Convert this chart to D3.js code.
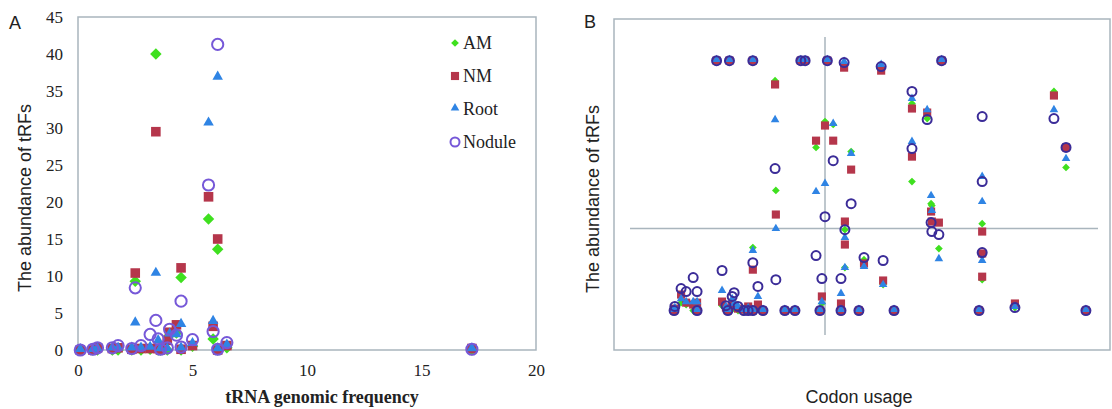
<!DOCTYPE html>
<meta charset="utf-8">
<style>
 body { margin: 0; background: #fff; }
 .tick text { font: 17px "Liberation Serif", serif; fill: #222; }
 .title { font: 18px "Liberation Sans", Arial, sans-serif; fill: #222; }
</style>
<body>
<svg width="1112" height="409"></svg>
<script src="https://d3js.org/d3.v7.min.js"></script>
<script>

// ---- panel A: tRNA genomic frequency vs abundance ----
var freqA   = [0.1, 0.65, 0.85, 1.5, 1.75, 2.35, 2.5, 2.75, 3.15, 3.4, 3.5, 3.6, 3.9, 4.0, 4.3, 4.5, 4.5, 5.0, 5.7, 5.9, 6.1, 6.1, 6.5, 17.2];
var amA     = [0, 0, 0, 0, 0, 0, 9.3, 0, 0.1, 40, 0, 0, 0, 2.0, 2.3, 9.8, 0, 0.5, 17.7, 1.5, 13.6, 0, 0.3, 0];
var nmA     = [0, 0, 0.3, 0.2, 0.3, 0.1, 10.4, 0.2, 0.2, 29.5, 0.2, 0, 1.3, 2.4, 3.4, 11.1, 0.1, 0.6, 20.7, 3.2, 15.0, 0, 0.6, 0.2];
var rootA   = [0, 0, 0.1, 0.2, 0.2, 0.2, 3.6, 0.2, 0.3, 10.3, 1.2, 0.1, 0.1, 2.1, 2.0, 3.4, 0.2, 0.8, 30.6, 3.8, 36.8, 0.1, 0.6, 0.1];
var noduleA = [0, 0.1, 0.3, 0.3, 0.6, 0.2, 8.4, 0.6, 2.1, 4.0, 1.5, 0.1, 0.3, 2.8, 2.0, 6.6, 0.4, 1.4, 22.3, 2.5, 41.3, 0.1, 1.0, 0.1];
var xTicksA = [0, 5, 10, 15, 20];
var yTicksA = [0, 5, 10, 15, 20, 25, 30, 35, 40, 45];

// ---- panel B: codon usage vs abundance (axes cross at 0,0, no labels) ----
var codonB  = [-3.87, -3.85, -3.69, -3.56, -3.38, -3.28, -3.28, -2.64, -2.54, -2.49, -2.38, -2.33, -2.23, -2.08, -1.97, -1.85, -1.85, -1.72, -1.59,
               -2.78, -2.45, -1.85, -0.62, -0.51, 0.06, 0.49, 1.44, 2.99,
               -1.28, -1.26, -1.03, -0.77, -0.23, -0.08, -0.13, 0, 0.21, 0.41, 0.41, 0.51, 0.51, 0.67, 0.87, 1.0, 1.49, 1.77,
               2.23, 2.23, 2.62, 2.72, 2.74, 2.92, 3.95, 4.03, 4.03, 4.03, 4.87, 5.87, 6.18, 6.69];
var amB     = [-3.85, -3.71, -3.48, -3.57, -3.85, -3.43, -3.85, -3.62, -3.85, -3.85, -3.57, -3.76, -3.85, -3.85, -3.85, -0.89, -3.85, -3.62, -3.85,
               7.89, 7.89, 7.89, 7.89, 7.89, 7.89, 7.66, 7.56, 7.89,
               6.95, 1.79, -3.85, -3.85, 3.81, -3.52, -3.85, 5.03, 4.89, -3.85, -3.57, -0.05, -1.83, 3.62, -3.85, -1.46, -2.63, -3.85,
               5.87, 2.21, 5.17, 1.17, 1.08, -0.94, -3.85, 0.23, -2.40, -1.27, -3.71, 6.44, 2.87, -3.85];
var nmB     = [-3.85, -3.76, -3.10, -3.48, -3.57, -3.48, -3.85, -3.43, -3.71, -3.85, -3.48, -3.62, -3.76, -3.81, -3.66, -1.93, -3.85, -3.57, -3.85,
               7.89, 7.89, 7.89, 7.89, 7.89, 7.89, 7.56, 7.42, 7.89,
               6.77, 0.66, -3.85, -3.85, 4.13, -3.19, -3.85, 4.84, 4.13, -3.85, -3.52, 0.33, -0.75, 2.77, -3.85, -1.64, -2.44, -3.85,
               5.64, 3.38, 5.45, 0.80, 0.33, 0.28, -3.85, -0.14, -2.26, -1.17, -3.52, 6.25, 3.81, -3.85];
var rootB   = [-3.85, -3.76, -3.34, -3.48, -3.48, -3.48, -3.85, -2.96, -3.71, -3.85, -3.34, -3.57, -3.71, -3.85, -3.76, -1.08, -3.85, -3.24, -3.85,
               7.89, 7.89, 7.89, 7.89, 7.89, 7.89, 7.80, 7.66, 7.89,
               5.07, -0.05, -3.85, -3.85, 1.69, -3.48, -3.85, 2.07, 4.89, -3.85, -3.10, -0.47, -1.88, 3.48, -3.85, -1.83, -2.68, -3.85,
               6.06, 4.04, 5.54, 1.50, 0.80, -1.46, -3.85, 2.40, 1.22, -1.55, -3.71, 5.54, 3.24, -3.85];
var noduleB = [-3.85, -3.66, -2.82, -2.96, -2.30, -2.96, -3.85, -1.97, -3.62, -3.85, -3.19, -3.01, -3.66, -3.85, -3.85, -1.60, -3.85, -2.72, -3.85,
               7.89, 7.89, 7.89, 7.89, 7.89, 7.89, 7.80, 7.61, 7.89,
               2.82, -2.40, -3.85, -3.85, -1.27, -2.35, -3.85, 0.56, 3.19, -3.85, -2.35, -0.05, null, 1.17, -3.85, -1.36, -1.50, -3.85,
               6.44, 3.76, 5.12, 0.28, -0.14, -0.28, -3.85, 2.21, 5.26, -1.13, -3.71, 5.17, 3.81, -3.85];

var seriesNames = ["AM", "NM", "Root", "Nodule"];
var frameColor = "#a9b5bd";

var svg = d3.select("svg");

// marker drawing, one function per series shape
function drawSeries(g, xs, ys, x, y, kind, big) {
    var pts = xs.map(function(v, i) { return [v, ys[i]]; })
                .filter(function(p) { return p[1] !== null; });
    var sel = g.selectAll(null).data(pts).enter();
    if (kind == "AM") {
        sel.append("path")
           .attr("d", d3.symbol(d3.symbolSquare, big ? 66 : 30)())
           .attr("transform", function(d) { return "translate(" + x(d[0]) + "," + y(d[1]) + ") rotate(45)"; })
           .attr("fill", "#3fe01f");
    } else if (kind == "NM") {
        sel.append("path")
           .attr("d", d3.symbol(d3.symbolSquare, big ? 92 : 66)())
           .attr("transform", function(d) { return "translate(" + x(d[0]) + "," + y(d[1]) + ")"; })
           .attr("fill", "#b5364b");
    } else if (kind == "Root") {
        sel.append("path")
           .attr("d", d3.symbol(d3.symbolTriangle, big ? 48 : 32)())
           .attr("transform", function(d) { return "translate(" + x(d[0]) + "," + (y(d[1]) - 1) + ")"; })
           .attr("fill", "#2f84e4");
    } else {
        sel.append("circle")
           .attr("cx", function(d) { return x(d[0]); })
           .attr("cy", function(d) { return y(d[1]); })
           .attr("r", big ? 5.6 : 4.5)
           .attr("fill", "none")
           .attr("stroke", big ? "#7658d8" : "#3b2c98")
           .attr("stroke-width", 2);
    }
}

// ================= panel A =================
var xA = d3.scaleLinear().domain([0, 20]).range([78, 536]);
var yA = d3.scaleLinear().domain([0, 45]).range([350, 17]);
var gA = svg.append("g");

gA.append("rect")
  .attr("x", 78).attr("y", 17).attr("width", 458).attr("height", 333)
  .attr("fill", "none").attr("stroke", frameColor).attr("stroke-width", 1.5);

gA.append("g")
  .attr("transform", "translate(78,0)")
  .call(d3.axisLeft(yA).tickValues(yTicksA).tickSize(0).tickPadding(15))
  .call(function(g) { g.select(".domain").remove(); });

gA.append("g")
  .attr("transform", "translate(0,350)")
  .call(d3.axisBottom(xA).tickValues(xTicksA).tickSize(0).tickPadding(14))
  .call(function(g) { g.select(".domain").remove(); });

drawSeries(gA, freqA, amA, xA, yA, "AM", true);
drawSeries(gA, freqA, nmA, xA, yA, "NM", true);
drawSeries(gA, freqA, rootA, xA, yA, "Root", true);
drawSeries(gA, freqA, noduleA, xA, yA, "Nodule", true);

// legend
var leg = gA.append("g").attr("transform", "translate(455,43)");
seriesNames.forEach(function(name, i) {
    var row = leg.append("g").attr("transform", "translate(0," + (i * 33) + ")");
    var lx = d3.scaleLinear().domain([0, 1]).range([0, 1]);
    drawSeries(row, [0], [0], lx, lx, name, false);
    row.append("text")
       .attr("x", 8).attr("y", 6)
       .style("font", "18px 'Liberation Serif', serif")
       .style("fill", "#222")
       .text(name);
});
leg.selectAll("circle").attr("stroke", "#7658d8");

svg.append("text").attr("class", "title")
   .attr("transform", "translate(31,198) rotate(-90)")
   .attr("text-anchor", "middle")
   .text("The abundance of tRFs");

svg.append("text")
   .attr("x", 322).attr("y", 403)
   .attr("text-anchor", "middle")
   .style("font", "bold 18px 'Liberation Serif', serif")
   .style("fill", "#222")
   .text("tRNA genomic frequency");

svg.append("text").attr("class", "title").attr("x", 9).attr("y", 29).text("A");

// ================= panel B =================
var xB = d3.scaleLinear().domain([-5, 7]).range([630, 1098]);
var yB = d3.scaleLinear().domain([-5, 9]).range([335, 37]);
var gB = svg.append("g");

gB.append("rect")
  .attr("x", 614).attr("y", 19).attr("width", 496).attr("height", 331)
  .attr("fill", "none").attr("stroke", frameColor).attr("stroke-width", 1.5);

gB.append("line")
  .attr("x1", xB(0)).attr("x2", xB(0)).attr("y1", yB(9)).attr("y2", yB(-5))
  .attr("stroke", frameColor).attr("stroke-width", 1.5);
gB.append("line")
  .attr("x1", xB(-5)).attr("x2", xB(7)).attr("y1", yB(0)).attr("y2", yB(0))
  .attr("stroke", frameColor).attr("stroke-width", 1.5);

drawSeries(gB, codonB, amB, xB, yB, "AM", false);
drawSeries(gB, codonB, nmB, xB, yB, "NM", false);
drawSeries(gB, codonB, rootB, xB, yB, "Root", false);
drawSeries(gB, codonB, noduleB, xB, yB, "Nodule", false);

svg.append("text").attr("class", "title")
   .attr("transform", "translate(599,199) rotate(-90)")
   .attr("text-anchor", "middle")
   .text("The abundance of tRFs");

svg.append("text").attr("class", "title")
   .attr("x", 859).attr("y", 403)
   .attr("text-anchor", "middle")
   .text("Codon usage");

svg.append("text").attr("class", "title").attr("x", 584).attr("y", 28).text("B");

</script>
</body>
